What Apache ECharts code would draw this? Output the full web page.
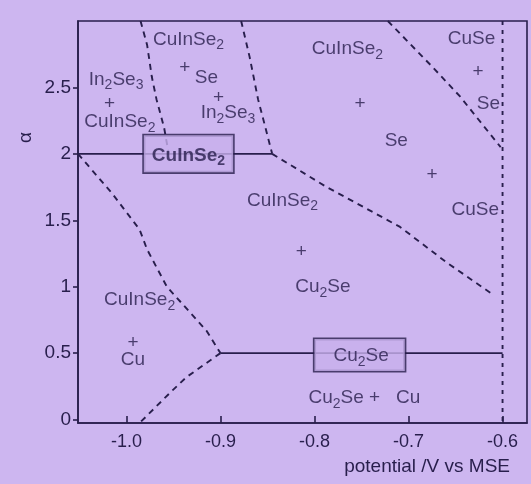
<!DOCTYPE html>
<html>
<head>
<meta charset="utf-8">
<script src="https://cdn.jsdelivr.net/npm/echarts@6/dist/echarts.min.js"></script>
<style>
  html, body { margin: 0; padding: 0; background: #cdb6f0; }
  #chart { width: 531px; height: 484px; }
</style>
</head>
<body>
<div id="chart"></div>
<script>
// Axis ticks
const xTicks = [-1.0, -0.9, -0.8, -0.7, -0.6];
const yTicks = [0, 0.5, 1, 1.5, 2, 2.5];

// Dashed phase boundaries: [potential (V vs MSE), alpha]
const boundaryInSe = [[-0.985, 3.0], [-0.978, 2.82], [-0.973, 2.58], [-0.968, 2.41], [-0.960, 2.2], [-0.955, 2.0]];
const boundarySe = [[-0.878, 3.0], [-0.869, 2.73], [-0.860, 2.41], [-0.853, 2.22], [-0.845, 2.0]];
const boundaryCu2Se = [[-0.845, 2.0], [-0.787, 1.75], [-0.709, 1.45], [-0.659, 1.18], [-0.610, 0.94]];
const boundaryCuSe = [[-0.722, 3.0], [-0.674, 2.65], [-0.645, 2.43], [-0.602, 2.05]];
const boundaryCuUpper = [[-1.0515, 2.0], [-1.015, 1.70], [-0.986, 1.43], [-0.978, 1.28], [-0.957, 1.0], [-0.915, 0.67], [-0.9, 0.5]];
const boundaryCuLower = [[-0.9, 0.5], [-0.936, 0.32], [-0.951, 0.22], [-0.986, -0.026]];
const boundaryVertical = [[-0.6, 3.0], [-0.6, -0.026]];

// Single-phase lines
const lineCuInSe2 = [[-1.0515, 2.0], [-0.845, 2.0]];
const lineCu2Se = [[-0.9, 0.5], [-0.6, 0.5]];

// Region labels: [potential, alpha, text]
const phaseLabels = [
  [-0.934, 2.86, 'CuInSe{s|2}'],
  [-0.938, 2.65, '+'],
  [-0.915, 2.57, 'Se'],
  [-0.902, 2.42, '+'],
  [-0.892, 2.31, 'In{s|2}Se{s|3}'],
  [-1.011, 2.56, 'In{s|2}Se{s|3}'],
  [-1.018, 2.38, '+'],
  [-1.007, 2.24, 'CuInSe{s|2}'],
  [-0.765, 2.79, 'CuInSe{s|2}'],
  [-0.7515, 2.38, '+'],
  [-0.713, 2.10, 'Se'],
  [-0.675, 1.84, '+'],
  [-0.633, 2.87, 'CuSe'],
  [-0.626, 2.62, '+'],
  [-0.615, 2.38, 'Se'],
  [-0.629, 1.58, 'CuSe'],
  [-0.834, 1.65, 'CuInSe{s|2}'],
  [-0.814, 1.26, '+'],
  [-0.791, 1.00, 'Cu{s|2}Se'],
  [-0.986, 0.90, 'CuInSe{s|2}'],
  [-0.993, 0.576, '+'],
  [-0.993, 0.448, 'Cu'],
  [-0.747, 0.162, 'Cu{s|2}Se +   Cu']
];

// Boxed single-phase labels: [potential, alpha, text, weight]
const boxLabels = [
  [-0.934, 2.0, 'CuInSe{s|2}', 'bold'],
  [-0.752, 0.486, 'Cu{s|2}Se', 'normal']
];
const boxPadding = [[7, 8, 4, 8], [4, 16, 2, 19]];

const ink = '#281e4c';
const font = '"Liberation Sans", Arial, sans-serif';

const chart = echarts.init(document.getElementById('chart'));

function dashed(data, dash) {
  return {
    type: 'line', data: data, symbol: 'none', silent: true, z: 2,
    lineStyle: { color: ink, width: 1.9, type: dash || [6, 5] }
  };
}
function solid(data) {
  return {
    type: 'line', data: data, symbol: 'none', silent: true, z: 2,
    lineStyle: { color: ink, width: 1.6 }
  };
}

const subRich = (weight) => ({
  s: { fontSize: 14, fontWeight: weight, color: ink, fontFamily: font, padding: [12, 0, 0, 0] }
});

chart.setOption({
  animation: false,
  backgroundColor: '#cdb6f0',
  grid: {
    left: 78, right: 4, top: 21, bottom: 61,
    show: true, borderColor: ink, borderWidth: 1.6, backgroundColor: 'transparent'
  },
  xAxis: {
    type: 'value', min: -1.0515, max: -0.574,
    axisLine: { show: true, onZero: false, lineStyle: { color: ink, width: 1.6 } },
    axisTick: { show: true, inside: true, length: 7, customValues: xTicks, lineStyle: { color: ink, width: 1.6 } },
    axisLabel: { customValues: xTicks, formatter: v => v.toFixed(1), fontSize: 18, color: ink, fontFamily: font, margin: 10 },
    splitLine: { show: false }
  },
  yAxis: {
    type: 'value', min: -0.026, max: 3.0,
    axisLine: { show: true, onZero: false, lineStyle: { color: ink, width: 1.6 } },
    axisTick: { show: true, inside: false, length: 5, customValues: yTicks, lineStyle: { color: ink, width: 1.6 } },
    axisLabel: { customValues: yTicks, formatter: v => String(v), fontSize: 19, color: ink, fontFamily: font, margin: 7 },
    splitLine: { show: false }
  },
  graphic: [
    {
      type: 'text', right: 21, top: 457, silent: true,
      style: { text: 'potential /V vs MSE', fontSize: 19, fill: ink, fontFamily: font }
    },
    {
      type: 'text', x: 16, y: 143, rotation: Math.PI / 2, silent: true,
      style: { text: 'α', fontSize: 19, fill: ink, fontFamily: font }
    }
  ],
  series: [
    dashed(boundaryInSe),
    dashed(boundarySe),
    dashed(boundaryCu2Se),
    dashed(boundaryCuSe),
    dashed(boundaryCuUpper),
    dashed(boundaryCuLower),
    dashed(boundaryVertical, [4, 5]),
    solid(lineCuInSe2),
    solid(lineCu2Se),
    {
      type: 'scatter', silent: true, z: 5, symbolSize: 0,
      data: phaseLabels.map(d => ({ value: [d[0], d[1]], label: { formatter: d[2] } })),
      label: {
        show: true, position: 'inside', fontSize: 19, color: ink, fontFamily: font,
        rich: subRich('normal')
      }
    },
    {
      type: 'scatter', silent: true, z: 6, symbolSize: 0,
      data: boxLabels.map((d, i) => ({
        value: [d[0], d[1]],
        label: { formatter: d[2], fontWeight: d[3], rich: subRich(d[3]), padding: boxPadding[i] }
      })),
      label: {
        show: true, position: 'inside', fontSize: 19, color: ink, fontFamily: font,
        backgroundColor: '#c8b0ec', borderColor: ink, borderWidth: 1.6
      }
    }
  ]
});
</script>
</body>
</html>
